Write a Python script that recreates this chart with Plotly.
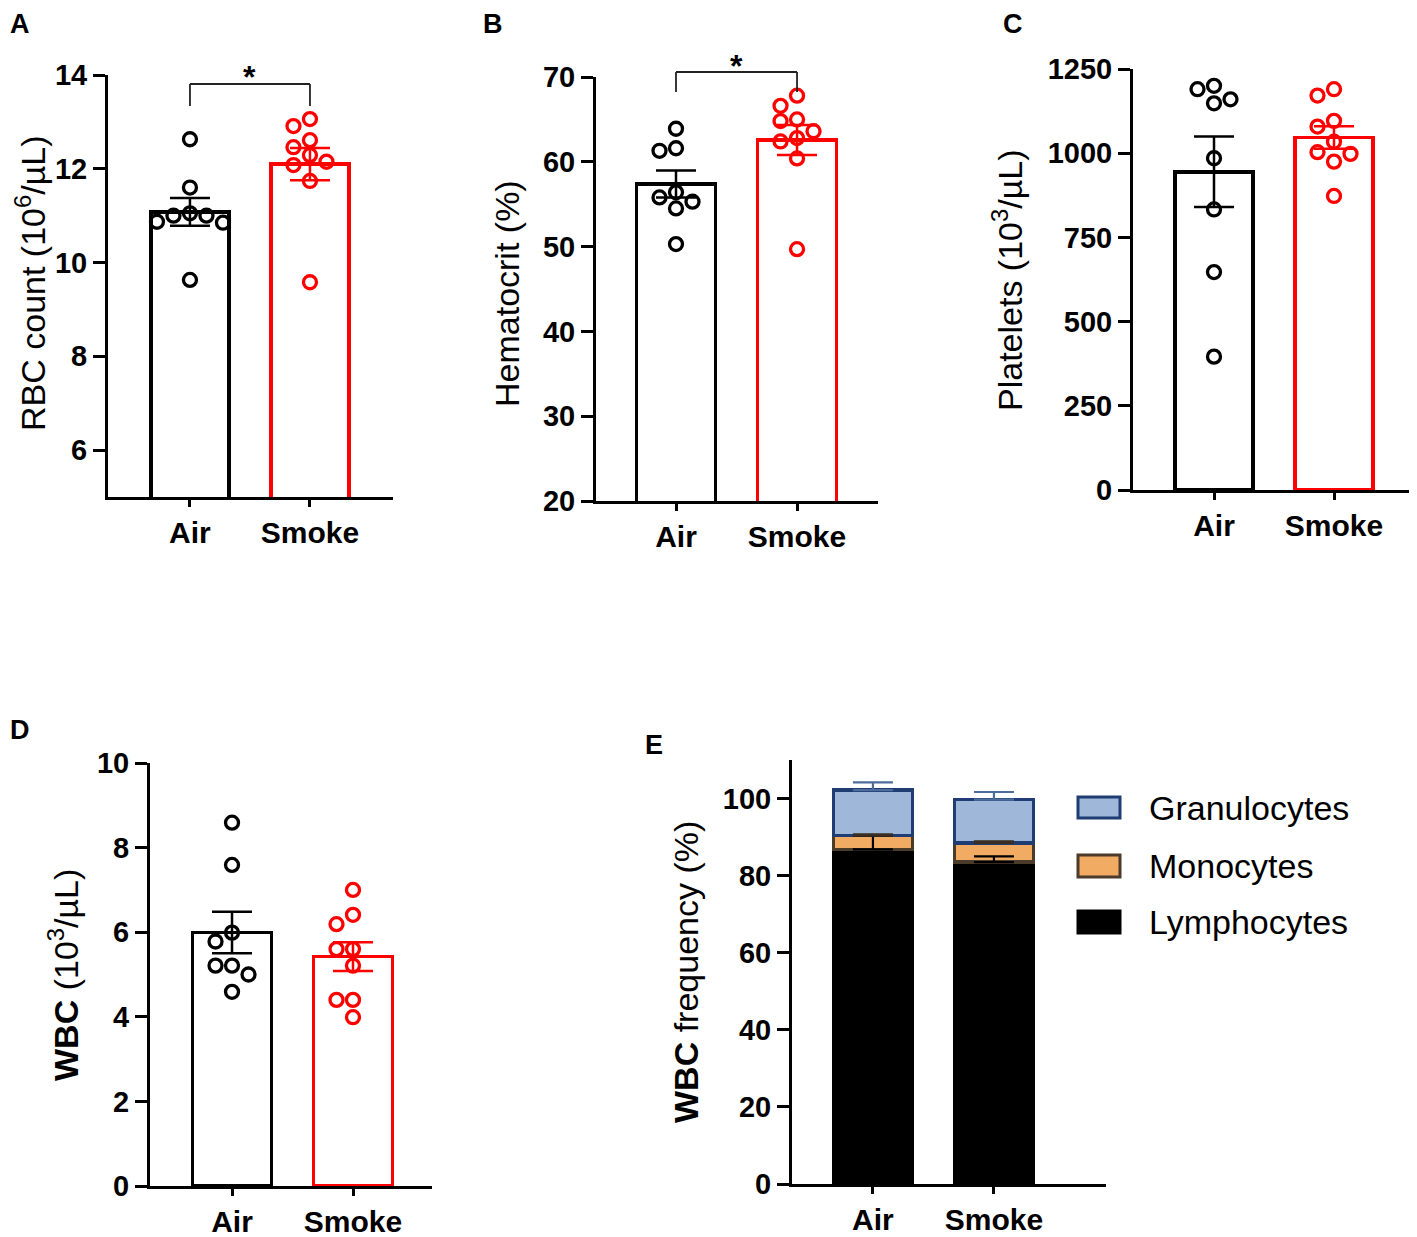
import numpy as np
import plotly.graph_objects as go

# page renders the figure with an 8px body margin; lay out in reference pixels
PAGE_W, PAGE_H = 1417, 1237
OFF = 8
W, H = PAGE_W - OFF, PAGE_H - OFF

# ---------------- data ----------------
groups = ["Air", "Smoke"]

rbc_air = [12.63, 11.60, 11.05, 11.00, 11.00, 10.87, 10.85, 9.63]
rbc_smoke = [13.06, 12.91, 12.61, 12.46, 12.29, 12.15, 12.08, 11.74, 9.58]

hct_air = [63.9, 61.3, 61.6, 55.8, 56.4, 55.3, 54.5, 50.3]
hct_smoke = [67.8, 66.6, 64.8, 65.0, 63.6, 62.8, 62.4, 60.4, 49.7]

plt_air = [1190, 1148, 1200, 1160, 985, 833, 647, 396]
plt_smoke = [1190, 1171, 1096, 1079, 1034, 1003, 998, 975, 873]

wbc_air = [8.59, 7.59, 5.99, 5.78, 5.21, 5.21, 5.00, 4.59]
wbc_smoke = [7.00, 6.41, 6.19, 5.60, 5.60, 5.21, 4.40, 4.40, 3.99]

wbc_types = ["Lymphocytes", "Monocytes", "Granulocytes"]
lymph_pct = [86.8, 83.5]
mono_pct = [3.6, 5.0]
gran_pct = [11.8, 11.2]
lymph_sem = [3.6, 1.5]
mono_sem = [0.3, 0.4]
gran_sem = [2.0, 2.0]

yticks_a = [6, 8, 10, 12, 14]
yticks_b = [20, 30, 40, 50, 60, 70]
yticks_c = [0, 250, 500, 750, 1000, 1250]
yticks_d = [0, 2, 4, 6, 8, 10]
yticks_e = [0, 20, 40, 60, 80, 100]

# ---------------- layout geometry (reference pixels) ----------------
FONT = "Liberation Sans, Arial, sans-serif"
BAR_W = 0.65

panels = [
    dict(label="A", xpx=(108, 393), ypx=(75, 497), yr=(5, 14), xr=(0.317, 2.692),
         ticks=yticks_a, air=rbc_air, smoke=rbc_smoke,
         title="RBC count (10<sup>6</sup>/µL)", tpos=(30, 283),
         lpos=(9, 8.5, "left", "top"),
         sig=dict(top=84, drop=106, star=77)),
    dict(label="B", xpx=(596, 878), ypx=(77, 501), yr=(20, 70), xr=(0.339, 2.669),
         ticks=yticks_b, air=hct_air, smoke=hct_smoke,
         title="Hematocrit (%)", tpos=(507, 294),
         lpos=(493, 8.5, "center", "top"),
         sig=dict(top=72, drop=92, star=66)),
    dict(label="C", xpx=(1133, 1415), ypx=(69, 490), yr=(0, 1250), xr=(0.325, 2.675),
         ticks=yticks_c, air=plt_air, smoke=plt_smoke,
         title="Platelets (10<sup>3</sup>/µL)", tpos=(1007, 280),
         lpos=(1013, 8.5, "center", "top"),
         sig=None),
    dict(label="D", xpx=(150, 432), ypx=(763, 1186), yr=(0, 10), xr=(0.322, 2.653),
         ticks=yticks_d, air=wbc_air, smoke=wbc_smoke,
         title="<b>WBC</b> (10<sup>3</sup>/µL)", tpos=(63, 975),
         lpos=(9, 730, "left", "middle"),
         sig=None),
    dict(label="E", xpx=(792, 1106), ypx=(760, 1184), yr=(0, 110), xr=(0.331, 2.926),
         ticks=yticks_e, air=None, smoke=None,
         title="<b>WBC</b> frequency (%)", tpos=(686, 972),
         lpos=(654, 745, "center", "middle"),
         sig=None),
]


def px2paper_x(px):
    return (px - OFF) / W


def px2paper_y(py):
    return 1 - (py - OFF) / H


def swarm(vals, ppu_y, ppu_x, diam=15.0, step=16.5):
    vals = np.asarray(vals, dtype=float)
    order = np.argsort(-vals, kind="stable")
    placed = []
    offs = np.zeros(len(vals))
    cands = [0.0]
    for j in range(1, 10):
        cands += [-j * step, j * step]
    for i in order:
        y = vals[i] * ppu_y
        chosen = cands[-1]
        for c in cands:
            if all((c - px) ** 2 + (y - py) ** 2 >= diam ** 2 for px, py in placed):
                chosen = c
                break
        placed.append((chosen, y))
        offs[i] = chosen / ppu_x
    return offs


fig = go.Figure()
layout = dict(template="none", width=W, height=H,
              margin=dict(l=0, r=0, t=0, b=0, pad=0, autoexpand=False),
              paper_bgcolor="white", plot_bgcolor="white", showlegend=False,
              barmode="stack", font=dict(family=FONT, color="black"))
shapes = []
annotations = []

for n, p in enumerate(panels, start=1):
    xa = "x" if n == 1 else f"x{n}"
    ya = "y" if n == 1 else f"y{n}"
    dom_x = [px2paper_x(p["xpx"][0]), px2paper_x(p["xpx"][1])]
    dom_y = [px2paper_y(p["ypx"][1]), px2paper_y(p["ypx"][0])]
    layout["xaxis" if n == 1 else f"xaxis{n}"] = dict(
        domain=dom_x, range=list(p["xr"]), anchor=ya, automargin=False,
        tickvals=[1, 2], ticktext=groups, ticks="outside", ticklen=7, tickwidth=3,
        tickcolor="black", showline=True, linewidth=3, linecolor="black",
        showgrid=False, zeroline=False,
        tickfont=dict(family=FONT, size=30, color="black", weight="bold"))
    layout["yaxis" if n == 1 else f"yaxis{n}"] = dict(
        domain=dom_y, range=list(p["yr"]), anchor=xa, automargin=False,
        tickvals=p["ticks"], ticks="outside", ticklen=12, tickwidth=3,
        tickcolor="black", showline=True, linewidth=3, linecolor="black",
        showgrid=False, zeroline=False,
        tickfont=dict(family=FONT, size=29, color="black", weight="bold"))

    # axis title
    annotations.append(dict(text=p["title"], xref="paper", yref="paper",
                            x=px2paper_x(p["tpos"][0]), y=px2paper_y(p["tpos"][1]),
                            textangle=-90, showarrow=False, xanchor="center", yanchor="middle",
                            font=dict(family=FONT, size=34, color="black")))
    # panel label
    lx, ly, lxa, lya = p["lpos"]
    annotations.append(dict(text=f"<b>{p['label']}</b>", xref="paper", yref="paper",
                            x=px2paper_x(lx), y=px2paper_y(ly), borderpad=0,
                            showarrow=False, xanchor=lxa, yanchor=lya,
                            font=dict(family=FONT, size=27, color="black")))

    if p["air"] is not None:
        ppu_y = (p["ypx"][1] - p["ypx"][0]) / (p["yr"][1] - p["yr"][0])
        ppu_x = (p["xpx"][1] - p["xpx"][0]) / (p["xr"][1] - p["xr"][0])
        means = [float(np.mean(p["air"])), float(np.mean(p["smoke"]))]
        sems = [float(np.std(p["air"], ddof=1) / np.sqrt(len(p["air"]))),
                float(np.std(p["smoke"], ddof=1) / np.sqrt(len(p["smoke"])))]
        colors = ["black", "#FF0000"]
        fig.add_trace(go.Bar(x=[1, 2], y=means, width=BAR_W, xaxis=xa, yaxis=ya,
                             marker=dict(color="rgba(255,255,255,0)",
                                         line=dict(color=colors, width=3.5)),
                             hoverinfo="skip"))
        for gi, vals in enumerate([p["air"], p["smoke"]]):
            offs = swarm(vals, ppu_y, ppu_x)
            fig.add_trace(go.Scatter(x=(gi + 1) + offs, y=vals, mode="markers",
                                     xaxis=xa, yaxis=ya, cliponaxis=False,
                                     marker=dict(symbol="circle-open", size=13,
                                                 color=colors[gi], line=dict(width=3.3))))
        for gi in range(2):
            fig.add_trace(go.Scatter(x=[gi + 1], y=[means[gi]], mode="markers",
                                     xaxis=xa, yaxis=ya, cliponaxis=False,
                                     marker=dict(size=1, color="rgba(0,0,0,0)"),
                                     error_y=dict(type="data", array=[sems[gi]],
                                                  color=colors[gi], thickness=2.5, width=20)))
        if p["sig"] is not None:
            s = p["sig"]
            ytop = px2paper_y(s["top"])
            ydrop = px2paper_y(s["drop"])
            for x0, y0, x1, y1 in [(1, ydrop, 1, ytop), (1, ytop, 2, ytop), (2, ytop, 2, ydrop)]:
                shapes.append(dict(type="line", xref=xa, yref="paper", x0=x0, x1=x1,
                                   y0=y0, y1=y1, line=dict(color="#222222", width=1.8)))
            annotations.append(dict(text="<b>*</b>", xref=xa, yref="paper", x=1.5,
                                    y=px2paper_y(s["star"]), showarrow=False,
                                    xanchor="center", yanchor="middle",
                                    font=dict(family=FONT, size=32, color="black")))
    else:
        # stacked WBC frequency
        fills = {"Lymphocytes": "#000000", "Monocytes": "#F2AB63", "Granulocytes": "#9FB7D8"}
        edges = {"Lymphocytes": "#000000", "Monocytes": "#4A3B2A", "Granulocytes": "#1F3D73"}
        errc = {"Lymphocytes": "#000000", "Monocytes": "#3A2E22", "Granulocytes": "#4C6D9C"}
        vals = {"Lymphocytes": lymph_pct, "Monocytes": mono_pct, "Granulocytes": gran_pct}
        errs = {"Lymphocytes": lymph_sem, "Monocytes": mono_sem, "Granulocytes": gran_sem}
        for t in wbc_types:
            fig.add_trace(go.Bar(x=[1, 2], y=vals[t], width=BAR_W, xaxis=xa, yaxis=ya,
                                 name=t,
                                 marker=dict(color=fills[t], line=dict(color=edges[t], width=3.5))))
        cum = np.zeros(2)
        tops = {}
        for t in wbc_types:
            cum = cum + np.asarray(vals[t])
            tops[t] = cum.copy()
        for t in wbc_types:
            fig.add_trace(go.Scatter(x=[1, 2], y=tops[t], mode="markers", xaxis=xa, yaxis=ya,
                                     cliponaxis=False,
                                     marker=dict(size=1, color="rgba(0,0,0,0)"),
                                     error_y=dict(type="data", symmetric=False, array=errs[t],
                                                  arrayminus=[0, 0], color=errc[t],
                                                  thickness=2.2, width=20)))
        # manual legend
        leg = [("Granulocytes", 797, 818), ("Monocytes", 855, 877), ("Lymphocytes", 911, 933)]
        for t, y0, y1 in leg:
            shapes.append(dict(type="rect", xref="paper", yref="paper",
                               x0=px2paper_x(1078), x1=px2paper_x(1120),
                               y0=px2paper_y(y1), y1=px2paper_y(y0),
                               fillcolor=fills[t], line=dict(color=edges[t], width=3)))
            annotations.append(dict(text=t, xref="paper", yref="paper",
                                    x=px2paper_x(1147), y=px2paper_y((y0 + y1) / 2),
                                    showarrow=False, xanchor="left", yanchor="middle",
                                    font=dict(family=FONT, size=34, color="black")))

layout["shapes"] = shapes
layout["annotations"] = annotations
fig.update_layout(**layout)
fig.write_html("out.html")
